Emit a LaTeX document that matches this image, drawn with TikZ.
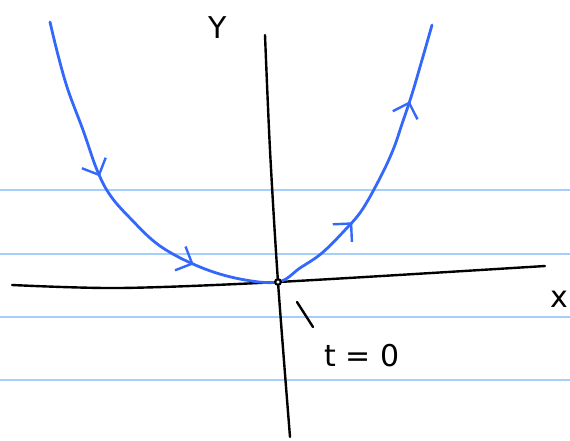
\documentclass[tikz,border=0pt]{standalone}
\usepackage{fontspec}
\setsansfont{DejaVu Sans}
\usetikzlibrary{arrows.meta,decorations.markings,positioning}
\definecolor{penblue}{RGB}{52,104,250}
\definecolor{ruleblue}{RGB}{166,206,250}

\begin{document}
\begin{tikzpicture}[x=1pt,y=-1pt,
  rule/.style={draw=ruleblue, line width=1.5pt},
  axis/.style={draw=black, line width=2.4pt, line cap=round, line join=round},
  curve/.style={draw=penblue, line width=2.8pt, line cap=round, line join=round},
  lbl/.style={font=\sffamily\fontsize{30}{32}\selectfont, inner sep=0pt},
  mid/.style={postaction={decorate, decoration={markings,
      mark=at position 0.235 with {\arrow[line width=2.4pt]{Straight Barb[length=13pt,width=26pt]}},
      mark=at position 0.425 with {\arrow[line width=2.4pt]{Straight Barb[length=13pt,width=26pt]}},
      mark=at position 0.69 with {\arrow[line width=2.4pt]{Straight Barb[length=13pt,width=26pt]}},
      mark=at position 0.885 with {\arrow[line width=2.4pt]{Straight Barb[length=13pt,width=26pt]}}}}}
]
\useasboundingbox (0,0) rectangle (570,440);

% ruled paper
\foreach \r in {190,254,317,380}
  \draw[rule] (0,\r) -- (570,\r);

% axes
\coordinate (o) at (278,282);
\coordinate (xl) at (12,285);
\coordinate (xr) at (545,266);
\coordinate (yt) at (265,35);
\coordinate (yb) at (290,437);
\draw[axis] plot[smooth] coordinates {(xl) (120,288) (o) (xr)};
\draw[axis] plot[smooth] coordinates {(yt) (270,150) (o) (yb)};

% path through origin
\draw[curve, mid] plot[smooth, tension=0.6] coordinates {
  (50,22) (58,55) (68,90) (83,130) (97,170) (110,195) (130,218)
  (160,246) (200,267) (240,279) (o)
  (300,268) (322,253) (345,230) (362,210) (380,178) (393,150)
  (402,124) (412,94) (422,60) (432,25)};

\draw[line width=2.2pt, fill=white] (o) circle (2.8pt);

% labels
\node[lbl] (ylab) at (218,28) {Y};
\node[lbl] (xlab) at (559,299) {x};
\node[lbl] (tlab) at (362,356) {t = 0};
\coordinate (tk) at (297,302);
\draw[axis] (tk) -- (313,327);
\end{tikzpicture}
\end{document}
